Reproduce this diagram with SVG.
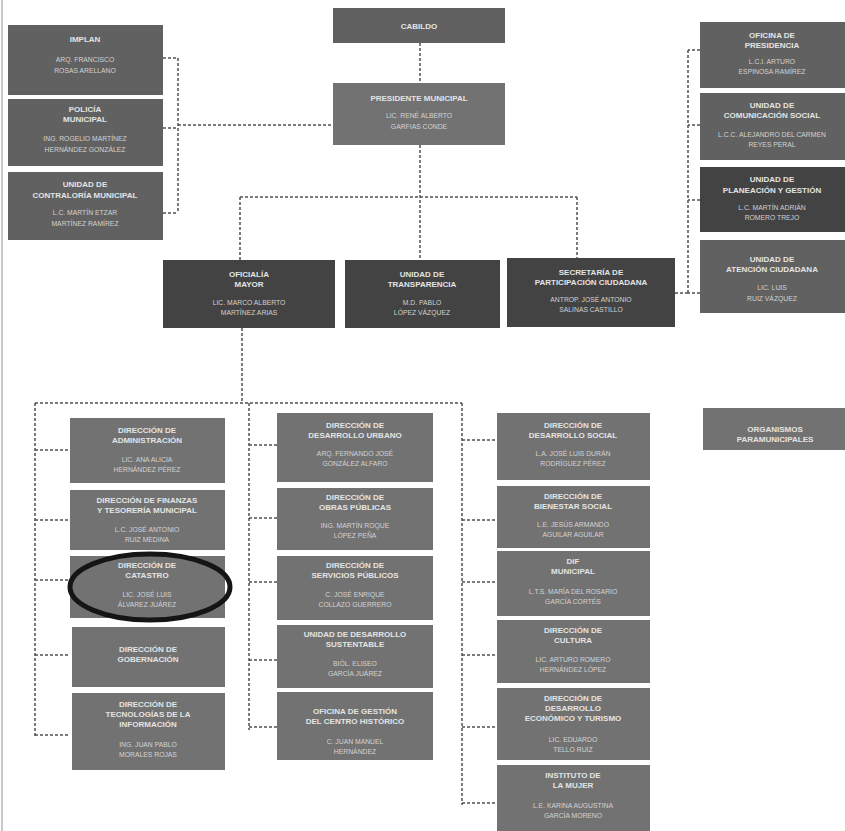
<svg xmlns="http://www.w3.org/2000/svg" width="845" height="831" viewBox="0 0 845 831">
<style>
.a{fill:#616161}
.b{fill:#727272}
.d{fill:#434343}
.t{font-family:"Liberation Sans",Arial,sans-serif;font-size:8px;font-weight:bold;fill:#e4e4e4;text-anchor:middle}
.n{font-family:"Liberation Sans",Arial,sans-serif;font-size:6.8px;fill:#d2d2d2;text-anchor:middle}
.c{fill:none;stroke:#505050;stroke-width:1.5;stroke-dasharray:3 2}
</style>
<rect width="845" height="831" fill="#ffffff"/>
<line x1="2" y1="0" x2="2" y2="831" stroke="#c8c8c8" stroke-width="2"/>
<g id="connectors" class="c">
<path d="M163 58H178M163 128H178M163 213H178M178 58V213M178 125H333"/>
<path d="M420 43V83M420 145V260M240 197H577M240 197V260M577 197V258"/>
<path d="M700 50H688M700 125H688M700 200H688M700 293H688M688 50V293M675 293H688"/>
<path d="M242 328V403M35 403H462M35 403V737M35 450H70M35 520H70M35 580H70M35 655H70M35 735H70"/>
<path d="M249 403V730M249 445H277M249 518H277M249 582H277M249 660H277M249 727H277"/>
<path d="M462 403V805M462 440H497M462 520H497M462 582H497M462 655H497M462 727H497M462 803H497"/>
</g>
<g id="implan"><rect class="a" x="8" y="25" width="155" height="70"/><text class="t" x="85" y="42">IMPLAN</text><text class="n" x="85" y="62">ARQ. FRANCISCO</text><text class="n" x="85" y="73">ROSAS ARELLANO</text></g>
<g id="policia"><rect class="a" x="8" y="99" width="155" height="67"/><text class="t" x="85" y="112">POLICÍA</text><text class="t" x="85" y="122">MUNICIPAL</text><text class="n" x="85" y="141">ING. ROGELIO MARTÍNEZ</text><text class="n" x="85" y="152">HERNÁNDEZ GONZÁLEZ</text></g>
<g id="contraloria"><rect class="a" x="8" y="172" width="155" height="68"/><text class="t" x="85" y="187">UNIDAD DE</text><text class="t" x="85" y="198">CONTRALORÍA MUNICIPAL</text><text class="n" x="85" y="215">L.C. MARTÍN ETZAR</text><text class="n" x="85" y="226">MARTÍNEZ RAMÍREZ</text></g>
<g id="cabildo"><rect class="a" x="333" y="8" width="172" height="35"/><text class="t" x="419" y="29">CABILDO</text></g>
<g id="presidente"><rect class="b" x="333" y="83" width="172" height="62"/><text class="t" x="419" y="101">PRESIDENTE MUNICIPAL</text><text class="n" x="419" y="118">LIC. RENÉ ALBERTO</text><text class="n" x="419" y="129">GARFIAS CONDE</text></g>
<g id="oficina-presidencia"><rect class="a" x="700" y="22" width="145" height="66"/><text class="t" x="772" y="38">OFICINA DE</text><text class="t" x="772" y="48">PRESIDENCIA</text><text class="n" x="772" y="64">L.C.I. ARTURO</text><text class="n" x="772" y="74">ESPINOSA RAMÍREZ</text></g>
<g id="comunicacion"><rect class="a" x="700" y="93" width="145" height="67"/><text class="t" x="772" y="108">UNIDAD DE</text><text class="t" x="772" y="118">COMUNICACIÓN SOCIAL</text><text class="n" x="772" y="137">L.C.C. ALEJANDRO DEL CARMEN</text><text class="n" x="772" y="147">REYES PERAL</text></g>
<g id="planeacion"><rect class="d" x="700" y="167" width="145" height="65"/><text class="t" x="772" y="182">UNIDAD DE</text><text class="t" x="772" y="193">PLANEACIÓN Y GESTIÓN</text><text class="n" x="772" y="210">L.C. MARTÍN ADRIÁN</text><text class="n" x="772" y="220">ROMERO TREJO</text></g>
<g id="atencion"><rect class="a" x="700" y="240" width="145" height="73"/><text class="t" x="772" y="262">UNIDAD DE</text><text class="t" x="772" y="272">ATENCIÓN CIUDADANA</text><text class="n" x="772" y="290">LIC. LUIS</text><text class="n" x="772" y="301">RUIZ VÁZQUEZ</text></g>
<g id="oficialia"><rect class="d" x="163" y="260" width="172" height="68"/><text class="t" x="249" y="277">OFICIALÍA</text><text class="t" x="249" y="287">MAYOR</text><text class="n" x="249" y="305">LIC. MARCO ALBERTO</text><text class="n" x="249" y="315">MARTÍNEZ ARIAS</text></g>
<g id="transparencia"><rect class="d" x="345" y="260" width="155" height="68"/><text class="t" x="422" y="277">UNIDAD DE</text><text class="t" x="422" y="287">TRANSPARENCIA</text><text class="n" x="422" y="305">M.D. PABLO</text><text class="n" x="422" y="315">LÓPEZ VÁZQUEZ</text></g>
<g id="secretaria"><rect class="d" x="507" y="258" width="168" height="69"/><text class="t" x="591" y="275">SECRETARÍA DE</text><text class="t" x="591" y="285">PARTICIPACIÓN CIUDADANA</text><text class="n" x="591" y="302">ANTROP. JOSÉ ANTONIO</text><text class="n" x="591" y="312">SALINAS CASTILLO</text></g>
<g id="administracion"><rect class="b" x="70" y="418" width="155" height="65"/><text class="t" x="147" y="433">DIRECCIÓN DE</text><text class="t" x="147" y="443">ADMINISTRACIÓN</text><text class="n" x="147" y="462">LIC. ANA ALICIA</text><text class="n" x="147" y="472">HERNÁNDEZ PÉREZ</text></g>
<g id="finanzas"><rect class="b" x="70" y="490" width="155" height="60"/><text class="t" x="147" y="503">DIRECCIÓN DE FINANZAS</text><text class="t" x="147" y="513">Y TESORERÍA MUNICIPAL</text><text class="n" x="147" y="532">L.C. JOSÉ ANTONIO</text><text class="n" x="147" y="542">RUIZ MEDINA</text></g>
<g id="catastro"><rect class="b" x="70" y="556" width="155" height="62"/><text class="t" x="147" y="568">DIRECCIÓN DE</text><text class="t" x="147" y="578">CATASTRO</text><text class="n" x="147" y="597">LIC. JOSÉ LUIS</text><text class="n" x="147" y="607">ÁLVAREZ JUÁREZ</text><ellipse cx="150" cy="587" rx="80" ry="33" fill="none" stroke="#151515" stroke-width="5"/></g>
<g id="gobernacion"><rect class="b" x="72" y="627" width="153" height="60"/><text class="t" x="148" y="652">DIRECCIÓN DE</text><text class="t" x="148" y="662">GOBERNACIÓN</text></g>
<g id="tecnologias"><rect class="b" x="72" y="693" width="153" height="77"/><text class="t" x="148" y="707">DIRECCIÓN DE</text><text class="t" x="148" y="717">TECNOLOGÍAS DE LA</text><text class="t" x="148" y="727">INFORMACIÓN</text><text class="n" x="148" y="747">ING. JUAN PABLO</text><text class="n" x="148" y="757">MORALES ROJAS</text></g>
<g id="desarrollo-urbano"><rect class="b" x="277" y="413" width="156" height="69"/><text class="t" x="355" y="428">DIRECCIÓN DE</text><text class="t" x="355" y="438">DESARROLLO URBANO</text><text class="n" x="355" y="456">ARQ. FERNANDO JOSÉ</text><text class="n" x="355" y="466">GONZÁLEZ ALFARO</text></g>
<g id="obras-publicas"><rect class="b" x="277" y="488" width="156" height="62"/><text class="t" x="355" y="500">DIRECCIÓN DE</text><text class="t" x="355" y="510">OBRAS PÚBLICAS</text><text class="n" x="355" y="528">ING. MARTÍN ROQUE</text><text class="n" x="355" y="538">LÓPEZ PEÑA</text></g>
<g id="servicios-publicos"><rect class="b" x="277" y="556" width="156" height="64"/><text class="t" x="355" y="568">DIRECCIÓN DE</text><text class="t" x="355" y="578">SERVICIOS PÚBLICOS</text><text class="n" x="355" y="597">C. JOSÉ ENRIQUE</text><text class="n" x="355" y="607">COLLAZO GUERRERO</text></g>
<g id="desarrollo-sustentable"><rect class="b" x="277" y="625" width="156" height="63"/><text class="t" x="355" y="637">UNIDAD DE DESARROLLO</text><text class="t" x="355" y="647">SUSTENTABLE</text><text class="n" x="355" y="666">BIÓL. ELISEO</text><text class="n" x="355" y="676">GARCÍA JUÁREZ</text></g>
<g id="centro-historico"><rect class="b" x="277" y="692" width="156" height="68"/><text class="t" x="355" y="714">OFICINA DE GESTIÓN</text><text class="t" x="355" y="724">DEL CENTRO HISTÓRICO</text><text class="n" x="355" y="744">C. JUAN MANUEL</text><text class="n" x="355" y="754">HERNÁNDEZ</text></g>
<g id="desarrollo-social"><rect class="b" x="497" y="413" width="153" height="67"/><text class="t" x="573" y="428">DIRECCIÓN DE</text><text class="t" x="573" y="438">DESARROLLO SOCIAL</text><text class="n" x="573" y="456">L.A. JOSÉ LUIS DURÁN</text><text class="n" x="573" y="466">RODRÍGUEZ PÉREZ</text></g>
<g id="bienestar"><rect class="b" x="497" y="486" width="153" height="62"/><text class="t" x="573" y="499">DIRECCIÓN DE</text><text class="t" x="573" y="509">BIENESTAR SOCIAL</text><text class="n" x="573" y="527">L.E. JESÚS ARMANDO</text><text class="n" x="573" y="537">AGUILAR AGUILAR</text></g>
<g id="dif"><rect class="b" x="497" y="551" width="153" height="65"/><text class="t" x="573" y="564">DIF</text><text class="t" x="573" y="574">MUNICIPAL</text><text class="n" x="573" y="594">L.T.S. MARÍA DEL ROSARIO</text><text class="n" x="573" y="604">GARCÍA CORTÉS</text></g>
<g id="cultura"><rect class="b" x="497" y="620" width="153" height="63"/><text class="t" x="573" y="633">DIRECCIÓN DE</text><text class="t" x="573" y="643">CULTURA</text><text class="n" x="573" y="662">LIC. ARTURO ROMERO</text><text class="n" x="573" y="672">HERNÁNDEZ LÓPEZ</text></g>
<g id="desarrollo-economico"><rect class="b" x="497" y="688" width="153" height="72"/><text class="t" x="573" y="701">DIRECCIÓN DE</text><text class="t" x="573" y="711">DESARROLLO</text><text class="t" x="573" y="721">ECONÓMICO Y TURISMO</text><text class="n" x="573" y="742">LIC. EDUARDO</text><text class="n" x="573" y="752">TELLO RUIZ</text></g>
<g id="instituto-mujer"><rect class="b" x="497" y="765" width="153" height="66"/><text class="t" x="573" y="778">INSTITUTO DE</text><text class="t" x="573" y="788">LA MUJER</text><text class="n" x="573" y="808">L.E. KARINA AUGUSTINA</text><text class="n" x="573" y="818">GARCÍA MORENO</text></g>
<g id="organismos"><rect class="b" x="703" y="408" width="142" height="42"/><text class="t" x="775" y="432">ORGANISMOS</text><text class="t" x="775" y="442">PARAMUNICIPALES</text></g>
</svg>
